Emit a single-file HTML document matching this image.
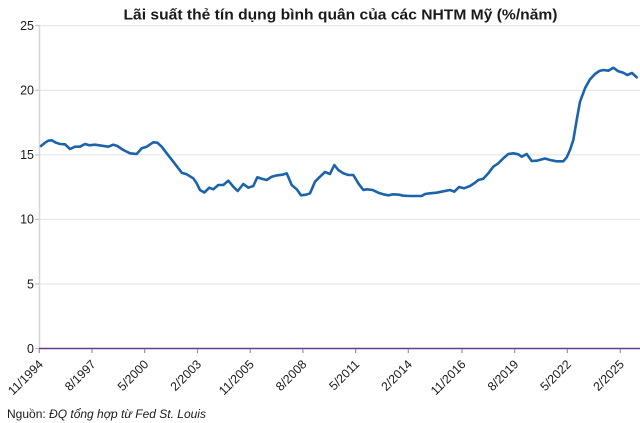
<!DOCTYPE html>
<html>
<head>
<meta charset="utf-8">
<style>
  html,body{margin:0;padding:0;background:#fff;}
  svg{display:block;}
  text{font-family:"Liberation Sans", sans-serif;}
</style>
</head>
<body>
<svg width="640" height="423" viewBox="0 0 640 423" xmlns="http://www.w3.org/2000/svg">
  <rect width="640" height="423" fill="#fff"/>
  <!-- Title -->
  <text x="123.5" y="19.5" font-size="14.5" font-weight="bold" fill="#1a1a1a" textLength="434" lengthAdjust="spacingAndGlyphs">Lãi suất thẻ tín dụng bình quân của các NHTM Mỹ (%/năm)</text>

  <!-- gridlines -->
  <g stroke="#e2e2e2" stroke-width="1">
    <line x1="40" y1="25.7" x2="640" y2="25.7"/>
    <line x1="40" y1="90.3" x2="640" y2="90.3"/>
    <line x1="40" y1="154.9" x2="640" y2="154.9"/>
    <line x1="40" y1="219.4" x2="640" y2="219.4"/>
    <line x1="40" y1="284" x2="640" y2="284"/>
  </g>
  <!-- y axis -->
  <line x1="39.5" y1="25" x2="39.5" y2="349" stroke="#d6d6d6" stroke-width="1.5"/>
  <g stroke="#bdbdbd" stroke-width="1">
    <line x1="35" y1="25.7" x2="39" y2="25.7"/>
    <line x1="35" y1="90.3" x2="39" y2="90.3"/>
    <line x1="35" y1="154.9" x2="39" y2="154.9"/>
    <line x1="35" y1="219.4" x2="39" y2="219.4"/>
    <line x1="35" y1="284" x2="39" y2="284"/>
    <line x1="35" y1="348.5" x2="39" y2="348.5"/>
  </g>
  <g font-size="12.5" fill="#1a1a1a" text-anchor="end">
    <text x="34" y="30">25</text>
    <text x="34" y="94.6">20</text>
    <text x="34" y="159.2">15</text>
    <text x="34" y="223.7">10</text>
    <text x="34" y="288.3">5</text>
    <text x="34" y="352.8">0</text>
  </g>

  <!-- x axis -->
  <line x1="39" y1="348.5" x2="640" y2="348.5" stroke="#5e4192" stroke-width="1.5"/>
  <g stroke="#9b89c2" stroke-width="1.2">
    <line x1="39.3" y1="349" x2="39.3" y2="353"/>
    <line x1="92" y1="349" x2="92" y2="353"/>
    <line x1="144.7" y1="349" x2="144.7" y2="353"/>
    <line x1="197.5" y1="349" x2="197.5" y2="353"/>
    <line x1="250.2" y1="349" x2="250.2" y2="353"/>
    <line x1="302.9" y1="349" x2="302.9" y2="353"/>
    <line x1="355.6" y1="349" x2="355.6" y2="353"/>
    <line x1="408.3" y1="349" x2="408.3" y2="353"/>
    <line x1="462" y1="349" x2="462" y2="353"/>
    <line x1="514.7" y1="349" x2="514.7" y2="353"/>
    <line x1="567.3" y1="349" x2="567.3" y2="353"/>
    <line x1="620.3" y1="349" x2="620.3" y2="353"/>
  </g>
  <g font-size="12.3" fill="#1a1a1a" text-anchor="end">
    <text transform="translate(43.8,365) rotate(-45)">11/1994</text>
    <text transform="translate(96.5,365) rotate(-45)">8/1997</text>
    <text transform="translate(149.2,365) rotate(-45)">5/2000</text>
    <text transform="translate(202,365) rotate(-45)">2/2003</text>
    <text transform="translate(254.7,365) rotate(-45)">11/2005</text>
    <text transform="translate(307.4,365) rotate(-45)">8/2008</text>
    <text transform="translate(360.1,365) rotate(-45)">5/2011</text>
    <text transform="translate(412.8,365) rotate(-45)">2/2014</text>
    <text transform="translate(466.5,365) rotate(-45)">11/2016</text>
    <text transform="translate(519.2,365) rotate(-45)">8/2019</text>
    <text transform="translate(571.8,365) rotate(-45)">5/2022</text>
    <text transform="translate(624.8,365) rotate(-45)">2/2025</text>
  </g>

  <!-- series -->
  <polyline fill="none" stroke="#1b63ab" stroke-width="2.6" stroke-linejoin="round" stroke-linecap="round" points="
41,146 45,142.7 48.3,140.7 51.7,140.3 56,142.7 60,144 65,144.3 70,149 75,146.7 80,146.7 85,144 89.3,145.3 95,144.7 101.7,145.7 108.3,146.7 113.3,144.7 117.3,146 123.3,150 130,153.3 136.7,154 141.7,148.3 146.7,146.7 153.3,142.3 157.3,142.7 161.7,146.7 166.7,153.3 173.3,161.7 181.7,172.7 186.7,174.3 193.3,178.3 196.7,183.3 200,190 204.3,192.5 209.3,187.7 213.3,189.3 218.3,185 223.3,185 228.3,180.7 233.3,186.7 237.7,191 243.3,184 248.3,187.7 253.3,186 257.3,177.3 261.7,178.7 266.7,180 271.7,176.7 277.3,175.3 282.7,174.7 286.7,173.3 291.7,185 296.7,189.3 301,195.3 306,194.7 310,193.3 315,181.7 320,176.7 325,172 330,174 334.3,165 338.3,170 343.3,173.3 348.3,175 353.3,175 358.3,183.3 363.3,190 366.7,189.3 372.7,190 378.3,192.7 383.3,194.3 388.3,195.3 393.3,194.3 399,194.7 403.3,195.7 410,196 421.7,196 425,194 430,193.3 436.7,192.7 443.3,191.3 450,190 454.3,191.7 459,187 464,188.3 470,186 475,182.7 478.3,180 483.3,178.7 488.3,173.3 493.3,166.7 498.3,163.3 503.3,158.3 508.3,154 513.3,153.3 518.3,154.3 521.7,156.7 526.7,154 531.7,161 536.7,160.7 545,158.5 550,160 556.7,161.3 563.3,161.3 566.7,157.3 570,150 573.3,140 576.7,120 580,101.7 585,88.3 590,79.3 595,74 599.3,71 603.3,70 608.3,70.7 613.3,67.7 618.3,71.3 623.3,72.7 627.3,75 632,73 636.7,77.3"/>

  <!-- source -->
  <text x="7" y="418" font-size="12" fill="#1a1a1a">Nguồn: <tspan font-style="italic">ĐQ tổng hợp từ Fed St. Louis</tspan></text>
</svg>
</body>
</html>
